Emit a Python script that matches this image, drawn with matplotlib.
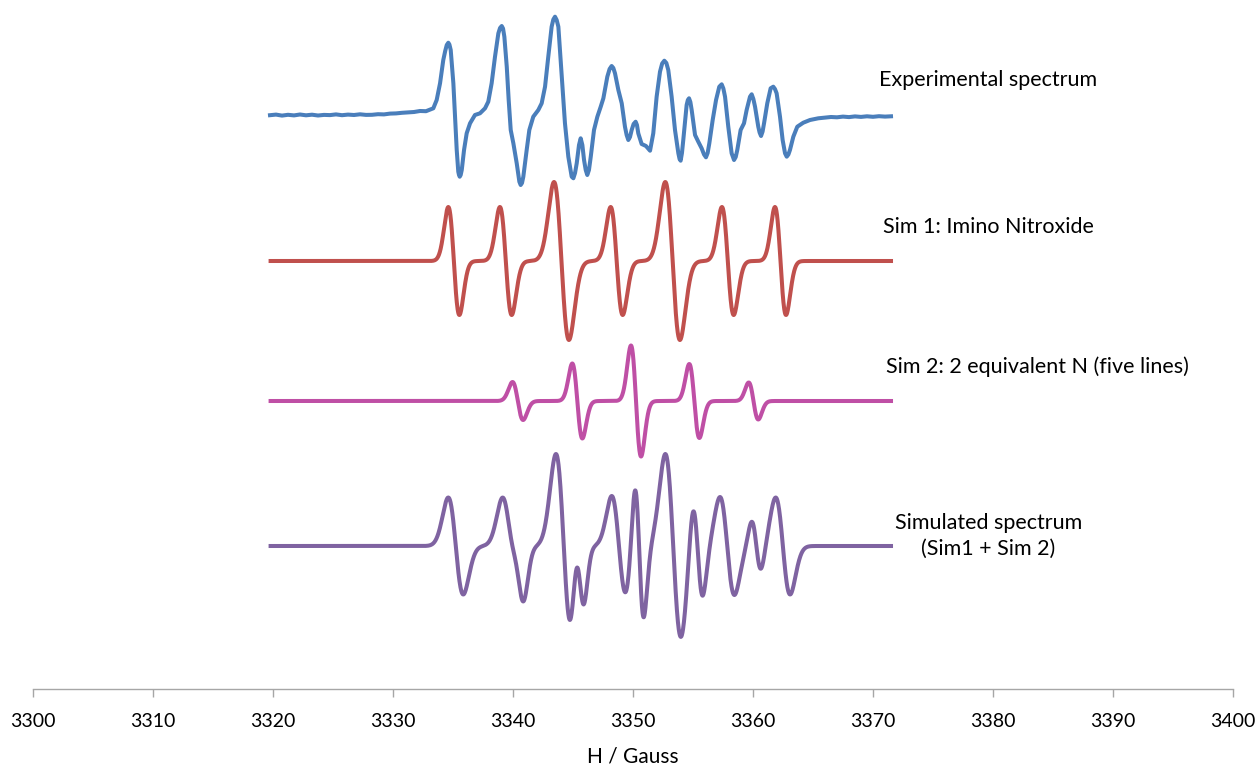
from __future__ import annotations

import matplotlib.pyplot as plt
import numpy as np


# ------------------------------------------------------------
# Experimental EPR trace (field in Gauss, signal in arbitrary units)
# ------------------------------------------------------------
EXP_FIELD = [
    3319.75, 3320.25, 3320.75, 3321.25, 3321.75, 3322.25, 3322.75, 3323.25,
    3323.75, 3324.25, 3324.75, 3325.25, 3325.75, 3326.25, 3326.75, 3327.25,
    3327.75, 3328.25, 3328.75, 3329.25, 3329.75, 3330.25, 3330.75, 3331.25,
    3331.75, 3332.25, 3332.75, 3333.36, 3333.64, 3333.92, 3334.19, 3334.35,
    3334.48, 3334.61, 3334.70, 3334.81, 3335.03, 3335.17, 3335.31, 3335.44,
    3335.50, 3335.56, 3335.64, 3335.73, 3335.92, 3336.14, 3336.42, 3336.83,
    3337.25, 3337.67, 3337.94, 3338.22, 3338.50, 3338.78, 3338.92, 3339.06,
    3339.17, 3339.28, 3339.48, 3339.64, 3339.81, 3340.03, 3340.31, 3340.53,
    3340.64, 3340.75, 3340.86, 3341.14, 3341.36, 3341.69, 3342.11, 3342.39,
    3342.67, 3342.94, 3343.22, 3343.36, 3343.50, 3343.64, 3343.78, 3344.03,
    3344.33, 3344.61, 3344.89, 3345.03, 3345.17, 3345.31, 3345.50, 3345.64,
    3345.78, 3345.92, 3346.06, 3346.19, 3346.33, 3346.48, 3346.75, 3347.03,
    3347.31, 3347.53, 3347.86, 3348.05, 3348.22, 3348.36, 3348.50, 3348.78,
    3349.06, 3349.33, 3349.47, 3349.61, 3349.75, 3349.89, 3350.05, 3350.22,
    3350.33, 3350.44, 3350.72, 3351.08, 3351.42, 3351.69, 3351.97, 3352.25,
    3352.43, 3352.61, 3352.78, 3352.94, 3353.22, 3353.50, 3353.78, 3353.88,
    3353.97, 3354.08, 3354.19, 3354.47, 3354.57, 3354.67, 3354.78, 3354.89,
    3355.17, 3355.44, 3355.72, 3355.92, 3356.08, 3356.22, 3356.36, 3356.64,
    3356.92, 3357.19, 3357.39, 3357.53, 3357.67, 3357.94, 3358.22, 3358.42,
    3358.56, 3358.69, 3358.97, 3359.25, 3359.47, 3359.75, 3359.89, 3360.03,
    3360.17, 3360.44, 3360.55, 3360.67, 3360.80, 3360.92, 3361.19, 3361.47,
    3361.69, 3361.83, 3361.97, 3362.25, 3362.47, 3362.67, 3362.81, 3362.95,
    3363.08, 3363.36, 3363.69, 3364.19, 3364.75, 3365.44, 3366.00, 3366.50,
    3367.00, 3367.50, 3368.00, 3368.50, 3369.00, 3369.50, 3370.00, 3370.50,
    3371.00, 3371.50,
]
EXP_SIGNAL = [
    0.8, 1.4, 0.4, 1.2, 0.6, 1.5, 0.7, 1.3,
    0.5, 1.1, 0.9, 1.6, 0.8, 1.4, 1.0, 1.7,
    1.1, 1.2, 1.8, 1.6, 2.4, 2.6, 3.2, 3.6,
    4.0, 5.0, 4.8, 7.7, 16.0, 32.7, 56.0, 65.0,
    71.0, 73.3, 71.5, 66.0, 32.7, -0.7, -34.0, -55.7,
    -59.0, -60.7, -59.0, -54.0, -34.0, -17.3, -7.3, 1.0,
    2.7, 7.7, 14.3, 32.7, 59.3, 82.7, 88.0, 90.0,
    87.5, 79.3, 49.3, 16.0, -14.0, -27.3, -47.3, -65.7,
    -69.0, -67.0, -60.7, -34.0, -14.0, -0.7, 6.0, 12.7,
    29.3, 59.3, 89.3, 96.5, 99.3, 96.0, 89.3, 45.0,
    -7.3, -40.7, -60.7, -62.3, -57.0, -47.3, -29.0, -22.3,
    -29.0, -44.0, -54.0, -59.0, -54.0, -40.7, -14.0, -0.7,
    9.3, 17.7, 39.3, 47.0, 50.0, 48.0, 42.7, 26.0,
    12.7, -10.7, -19.0, -24.0, -21.0, -14.0, -8.0, -5.7,
    -9.0, -17.3, -28.0, -30.0, -34.7, -17.3, 19.3, 44.3,
    52.5, 55.3, 53.0, 46.0, 19.3, -14.0, -37.3, -43.0,
    -44.7, -37.0, -24.0, 11.0, 16.0, 17.7, 14.0, 6.0,
    -19.0, -25.7, -32.3, -38.5, -41.3, -37.0, -27.3, -4.0,
    16.0, 29.3, 31.7, 27.5, 19.3, -10.7, -37.3, -44.0,
    -41.0, -34.0, -14.0, -7.3, 6.0, 19.3, 21.7, 17.0,
    9.3, -10.7, -16.5, -20.0, -15.5, -7.3, 12.7, 27.7,
    29.3, 27.0, 22.7, -0.7, -24.0, -37.3, -40.7, -38.5,
    -34.0, -20.7, -10.7, -6.7, -4.0, -2.3, -1.6, -1.0,
    -1.3, -0.6, -1.1, -0.4, -0.9, -0.3, -0.8, -0.2,
    -0.6, -0.3,
]

# ------------------------------------------------------------
# Sim 1: imino nitroxide, seven derivative lines
# ------------------------------------------------------------
SIM1_CENTERS = [3335.07, 3339.40, 3344.04, 3348.64, 3353.30, 3357.90, 3362.29]
SIM1_HEIGHTS = [54, 54, 79, 54, 79, 54, 54]
SIM1_WIDTHS = [0.46, 0.49, 0.62, 0.50, 0.61, 0.49, 0.46]

# ------------------------------------------------------------
# Sim 2: two equivalent N, five lines 1:2:3:2:1
# ------------------------------------------------------------
SIM2_CENTERS = [3340.40, 3345.36, 3350.25, 3355.11, 3360.04]
SIM2_HEIGHTS = [19, 37.5, 55.5, 37, 18.5]
SIM2_WIDTHS = [0.44, 0.42, 0.42, 0.42, 0.40]

# ------------------------------------------------------------
# Combined simulation: broadened imino set + five-line set
# ------------------------------------------------------------
TOTAL_IMINO_CENTERS = [3335.23, 3339.75, 3344.23, 3348.83, 3353.35, 3357.85, 3362.49]
TOTAL_IMINO_HEIGHTS = [48.5, 48, 92, 50, 92, 49, 48.5]
TOTAL_IMINO_WIDTHS = [0.625, 0.625, 0.65, 0.60, 0.654, 0.60, 0.60]
TOTAL_FIVE_CENTERS = [3340.58, 3345.58, 3350.52, 3355.39, 3360.28]
TOTAL_FIVE_HEIGHTS = [30, 45, 71, 50, 25]
TOTAL_FIVE_WIDTHS = [0.42, 0.375, 0.375, 0.42, 0.39]

SIM_FIELD_START = 3319.8
SIM_FIELD_END = 3371.5

X_TICKS = list(range(3300, 3401, 10))

# vertical stacking of the four traces
OFFSET_EXP = 573
OFFSET_SIM1 = 428
OFFSET_SIM2 = 288
OFFSET_TOTAL = 143

COLOR_EXP = "#4a7ebb"
COLOR_SIM1 = "#c0504d"
COLOR_SIM2 = "#bf4fa5"
COLOR_TOTAL = "#7f63a1"

FONT = ["Lato", "DejaVu Sans"]


def derivative_lines(field, centers, heights, widths):
    # sum of first-derivative Gaussian lines, +/-height at the extrema
    signal = np.zeros_like(field)
    for c, h, w in zip(centers, heights, widths):
        u = (field - c) / w
        signal += -h * u * np.exp(0.5 - 0.5 * u**2)
    return signal


def main() -> None:
    plt.rcParams["font.family"] = FONT

    field = np.linspace(SIM_FIELD_START, SIM_FIELD_END, 3000)
    sim1 = derivative_lines(field, SIM1_CENTERS, SIM1_HEIGHTS, SIM1_WIDTHS)
    sim2 = derivative_lines(field, SIM2_CENTERS, SIM2_HEIGHTS, SIM2_WIDTHS)
    total = derivative_lines(
        field, TOTAL_IMINO_CENTERS, TOTAL_IMINO_HEIGHTS, TOTAL_IMINO_WIDTHS
    ) + derivative_lines(
        field, TOTAL_FIVE_CENTERS, TOTAL_FIVE_HEIGHTS, TOTAL_FIVE_WIDTHS
    )

    fig = plt.figure(figsize=(12.6, 7.67), dpi=100)
    ax = fig.add_axes([33 / 1260, 78 / 767, 1200 / 1260, 689 / 767])

    lw = 2.9
    ax.plot(EXP_FIELD, np.array(EXP_SIGNAL) + OFFSET_EXP, color=COLOR_EXP,
            lw=lw, solid_joinstyle="round")
    ax.plot(field, sim1 + OFFSET_SIM1, color=COLOR_SIM1, lw=lw)
    ax.plot(field, sim2 + OFFSET_SIM2, color=COLOR_SIM2, lw=lw)
    ax.plot(field, total + OFFSET_TOTAL, color=COLOR_TOTAL, lw=lw)

    # trace labels
    label_kw = dict(transform=ax.transData, fontsize=15.5, ha="center",
                    va="center", color="black")
    ax.text(3379.6, 689 - 80, "Experimental spectrum", **label_kw)
    ax.text(3379.6, 689 - 227, "Sim 1: Imino Nitroxide", **label_kw)
    ax.text(3383.7, 689 - 367, "Sim 2: 2 equivalent N (five lines)", **label_kw)
    ax.text(3379.6, 689 - 536, "Simulated spectrum\n(Sim1 + Sim 2)",
            linespacing=1.4, **label_kw)

    ax.set_xlim(3300, 3400)
    ax.set_ylim(0, 689)
    ax.set_xticks(X_TICKS)
    ax.set_yticks([])

    for side in ("left", "right", "top"):
        ax.spines[side].set_visible(False)
    ax.spines["bottom"].set_color("#a6a6a6")
    ax.spines["bottom"].set_linewidth(1.0)
    ax.tick_params(axis="x", direction="out", length=5.5, width=1.0,
                   color="#a6a6a6", labelsize=14, pad=12, labelcolor="black")
    ax.set_xlabel("H / Gauss", fontsize=15, labelpad=12)

    fig.savefig("out.png", dpi=100)
    plt.close(fig)


if __name__ == "__main__":
    main()
